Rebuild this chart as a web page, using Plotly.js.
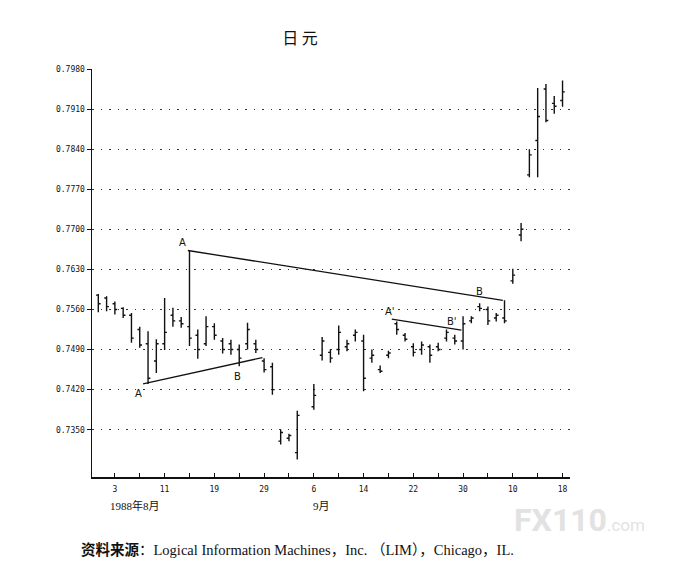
<!DOCTYPE html>
<html>
<head>
<meta charset="utf-8">
<script src="https://cdn.plot.ly/plotly-3.0.1.min.js"></script>
<style>html,body{margin:0;padding:0;background:#fff;}#chart{width:686px;height:566px;}</style>
</head>
<body>
<div id="chart"></div>
<script>
// weekday index from 1988-08-01 (Sep 5, Labor Day = 25, no data)
const dayIndex = [0,1,2,3,4,5,6,7,8,9,10,11,12,13,14,15,16,17,18,19,20,21,22,23,24,
  26,27,28,29,30,31,32,33,34,35,36,37,38,39,40,41,42,43,44,45,46,47,48,49,50,51,52,53,54,55,56];
const highs = [.7587,.7583,.7574,.7564,.7554,.7530,.7522,.7508,.7580,.7563,.7547,.7663,.7525,.7548,.7536,.7510,.7507,.7499,.7537,.7507,.7475,.7467,.7350,.7343,.7383,
  .7430,.7512,.7490,.7532,.7507,.7525,.7516,.7490,.7462,.7488,.7539,.7519,.7501,.7504,.7499,.7502,.7525,.7516,.7548,.7548,.7571,.7565,.7554,.7576,.7631,.7711,.7840,.7947,.7954,.7933,.7960];
const lows = [.7555,.7557,.7551,.7545,.7502,.7493,.7430,.7449,.7489,.7530,.7528,.7496,.7474,.7496,.7507,.7483,.7481,.7461,.7490,.7484,.7450,.7411,.7324,.7330,.7298,
  .7385,.7471,.7467,.7481,.7487,.7504,.7417,.7467,.7449,.7475,.7516,.7504,.7478,.7481,.7467,.7487,.7504,.7499,.7490,.7536,.7557,.7533,.7539,.7536,.7605,.7679,.7791,.7791,.7887,.7902,.7914];
const opens = [.7585,.7580,.7570,.7562,.7550,.7525,.7500,.7470,.7500,.7550,.7540,.7530,.7515,.7500,.7530,.7505,.7500,.7490,.7500,.7500,.7470,.7460,.7330,.7335,.7310,
  .7390,.7480,.7485,.7490,.7495,.7515,.7505,.7475,.7455,.7480,.7535,.7515,.7495,.7490,.7495,.7495,.7510,.7510,.7505,.7540,.7565,.7560,.7545,.7545,.7610,.7690,.7795,.7855,.7945,.7920,.7925];
const closes = [.7570,.7565,.7560,.7550,.7510,.7498,.7440,.7500,.7520,.7540,.7535,.7510,.7490,.7530,.7515,.7490,.7490,.7475,.7525,.7490,.7455,.7420,.7345,.7340,.7375,
  .7410,.7505,.7475,.7520,.7500,.7520,.7440,.7480,.7452,.7484,.7525,.7508,.7485,.7498,.7480,.7490,.7520,.7505,.7535,.7545,.7562,.7540,.7550,.7540,.7620,.7700,.7830,.7897,.7890,.7915,.7940];

const yTicks = [0.7350,0.7420,0.7490,0.7560,0.7630,0.7700,0.7770,0.7840,0.7910,0.7980];
const yTickText = ["0.7350","0.7420","0.7490","0.7560","0.7630","0.7700","0.7770","0.7840","0.7910","0.7980"];
const xTicks = [2,5,8,11,14,17,20,23,26,29,32,35,38,41,44,47,50,53,56];
const xTickText = ["3","","11","","19","","29","","6","","14","","22","","30","","10","","18"];

// trend lines (weekday index, price)
const trendAB_x = [10.8, 48.8], trendAB_y = [0.7663, 0.7576];
const trendLow_x = [5.4, 19.8], trendLow_y = [0.7430, 0.7476];
const trendPrime_x = [35.4, 43.8], trendPrime_y = [0.7543, 0.7524];

// point labels
const labelText = ["A","B","A","B","A'","B'"];
const labelX = [10.2, 46.0, 4.9, 16.85, 35.2, 42.7];
const labelY = [0.7677, 0.7591, 0.7413, 0.7443, 0.7556, 0.7539];

const traces = [
  {type:'ohlc', x:dayIndex, open:opens, high:highs, low:lows, close:closes,
   increasing:{line:{color:'#111', width:1.4}}, decreasing:{line:{color:'#111', width:1.4}},
   tickwidth:0.28, hoverinfo:'skip', showlegend:false},
  {type:'scatter', mode:'lines', x:trendAB_x, y:trendAB_y, line:{color:'#111', width:1.3}, showlegend:false, hoverinfo:'skip'},
  {type:'scatter', mode:'lines', x:trendLow_x, y:trendLow_y, line:{color:'#111', width:1.3}, showlegend:false, hoverinfo:'skip'},
  {type:'scatter', mode:'lines', x:trendPrime_x, y:trendPrime_y, line:{color:'#111', width:1.3}, showlegend:false, hoverinfo:'skip'}
];

const annotations = labelText.map((t,i)=>({x:labelX[i], y:labelY[i], xref:'x', yref:'y', text:t, showarrow:false,
  font:{family:'DejaVu Sans', size:10, color:'#111'}}));

annotations.push(
  {xref:'paper', yref:'paper', x:0.09, y:-0.071, xanchor:'center', yanchor:'middle', text:'1988年8月', showarrow:false,
   font:{family:'Liberation Serif, Noto Sans CJK SC', size:11, color:'#111'}},
  {xref:'paper', yref:'paper', x:0.481, y:-0.071, xanchor:'center', yanchor:'middle', text:'9月', showarrow:false,
   font:{family:'Liberation Serif, Noto Sans CJK SC', size:11, color:'#111'}},
  {xref:'paper', yref:'paper', x:-0.027, y:-0.179, xanchor:'left', yanchor:'middle', showarrow:false,
   text:'<b>资料来源</b>：Logical Information Machines，Inc. （LIM），Chicago，IL.',
   font:{family:'Liberation Serif, Noto Sans CJK SC', size:14.5, color:'#111'}},
  {xref:'paper', yref:'paper', x:1.02, y:-0.106, xanchor:'center', yanchor:'middle', showarrow:false,
   text:'<b>FX110</b><span style="font-size:17px">.com</span>',
   font:{family:'Roboto', size:32, color:'#e2e2e2'}}
);

const layout = {
  width:686, height:566,
  margin:{l:92, r:116, t:69, b:89},
  paper_bgcolor:'#fff', plot_bgcolor:'#fff',
  title:{text:'日 元', x:0.435, xref:'paper', y:0.933, yref:'container', yanchor:'middle',
    font:{family:'Noto Sans CJK SC', size:16, color:'#111'}},
  xaxis:{range:[-0.76, 56.9], tickmode:'array', tickvals:xTicks, ticktext:xTickText,
    ticks:'inside', ticklen:4, tickcolor:'#111', showline:true, linecolor:'#111', linewidth:1.5,
    showgrid:false, zeroline:false, rangeslider:{visible:false}, fixedrange:true, ticklabelstandoff:4,
    tickfont:{family:'DejaVu Sans Mono', size:8, color:'#111'}},
  yaxis:{range:[0.72674, 0.7980], tickmode:'array', tickvals:yTicks, ticktext:yTickText,
    ticks:'outside', ticklen:4, tickcolor:'#111', showline:true, linecolor:'#111', linewidth:1.5,
    showgrid:true, gridcolor:'#333', gridwidth:1, griddash:'1.5px,7px', zeroline:false,
    tickfont:{family:'DejaVu Sans Mono', size:8, color:'#111'}},
  annotations:annotations,
  showlegend:false
};

Plotly.newPlot('chart', traces, layout, {staticPlot:true, displayModeBar:false});
</script>
</body>
</html>
